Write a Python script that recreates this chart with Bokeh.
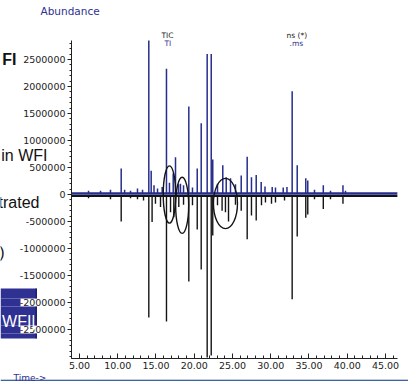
from bokeh.plotting import figure
from bokeh.models import (Range1d, FixedTicker, NumeralTickFormatter, PrintfTickFormatter,
                          Label, BoxAnnotation)
from bokeh.embed import file_html
from bokeh.resources import INLINE

# ---------------- data ----------------
# sample TIC (blue, drawn upward): retention time (min) and abundance
sample_time = [6.18, 7.75, 9.05, 10.45, 10.9, 11.67, 12.58, 13.24, 14.06, 14.37, 14.74, 15.2,
               15.81, 16.37, 16.76, 17.25, 17.55, 17.94, 18.2, 18.6, 19.29, 19.77, 20.39, 20.91,
               21.69, 22.22, 22.42, 23.04, 23.73, 24.18, 24.74, 25.39, 26.14, 26.92, 27.48, 28.1,
               28.75, 29.25, 30.19, 30.62, 31.63, 32.12, 32.8, 33.46, 34.58, 34.84, 35.72, 36.87,
               37.81, 39.44, 39.77]
sample_abund = [70000, 70000, 90000, 480000, 90000, 70000, 110000, 90000, 2950000, 440000, 170000, 110000,
                140000, 2330000, 220000, 390000, 690000, 190000, 200000, 170000, 1630000, 130000, 480000, 1320000,
                2600000, 2600000, 650000, 200000, 540000, 320000, 300000, 190000, 350000, 700000, 320000, 360000,
                230000, 150000, 140000, 130000, 130000, 140000, 1910000, 540000, 300000, 260000, 90000, 170000,
                70000, 170000, 70000]
# blank TIC (black, mirrored downward)
blank_time = [6.18, 9.05, 10.45, 11.67, 12.58, 13.37, 14.06, 14.49, 14.93, 15.59, 16.37, 16.9,
              17.33, 17.98, 18.6, 19.29, 19.77, 20.39, 20.91, 21.69, 22.22, 22.42, 23.04, 23.64,
              24.08, 24.48, 25.39, 26.14, 26.92, 27.48, 28.1, 28.79, 29.31, 30.1, 30.62, 31.8,
              32.8, 33.46, 34.58, 34.84, 35.72, 36.87, 37.81, 39.44]
blank_abund = [-70000, -90000, -500000, -70000, -90000, -110000, -2280000, -510000, -170000, -230000, -2350000, -330000,
               -420000, -230000, -190000, -1610000, -200000, -650000, -1390000, -3020000, -2980000, -760000, -200000, -300000,
               -330000, -500000, -190000, -300000, -830000, -390000, -480000, -200000, -150000, -170000, -150000, -110000,
               -1940000, -780000, -430000, -370000, -90000, -270000, -90000, -170000]
run_time = [3.96, 46.6]
sample_baseline = 18000
blank_baseline = -28000

# highlighted regions (ellipses): centre time, centre abundance, width (min), height (abundance)
ell_x = [16.76, 18.42, 24.08]
ell_y = [0, -200000, -167000]
ell_w = [1.63, 1.7, 3.14]
ell_h = [1060000, 1040000, 930000]

x_major = [5, 10, 15, 20, 25, 30, 35, 40, 45]
x_minor = list(range(4, 47))
y_major = [-2500000, -2000000, -1500000, -1000000, -500000, 0, 500000, 1000000, 1500000, 2000000, 2500000]
y_minor = list(range(-3000000, 2900000, 100000))

# ---------------- geometry ----------------
W, H = 408, 381
FL, FR, FT, FB = 71, 397, 40, 358
X0, X1 = 3.954, 46.57
Y0, Y1 = -3037000, 2852000

BLUE = "#262d8c"
BOXBLUE = "#2e3192"
BLACK = "#141414"
SMALL = "DejaVu Sans"
BIG = "Liberation Sans"
ABS = {"position": "absolute", "left": "0px", "top": "0px"}

p = figure(width=W, height=H, x_range=Range1d(X0, X1), y_range=Range1d(Y0, Y1),
           output_backend="svg", toolbar_location=None,
           min_border_left=FL, min_border_right=W - FR, min_border_top=FT, min_border_bottom=H - FB)
p.styles = ABS
p.outline_line_color = None
p.xgrid.visible = False
p.ygrid.visible = False
p.background_fill_color = "white"
p.border_fill_color = "white"

xa = p.xaxis[0]
xa.ticker = FixedTicker(ticks=x_major, minor_ticks=x_minor)
xa.formatter = NumeralTickFormatter(format="0.00")
xa.major_tick_in = 5
xa.major_tick_out = 0
xa.minor_tick_in = 3
xa.minor_tick_out = 0
xa.major_label_standoff = 3
xa.major_label_text_font = SMALL
xa.major_label_text_font_size = "9.5px"
xa.major_label_text_color = "#222222"
xa.axis_line_color = "#222222"
xa.major_tick_line_color = "#222222"
xa.minor_tick_line_color = "#222222"

ya = p.yaxis[0]
ya.ticker = FixedTicker(ticks=y_major, minor_ticks=y_minor)
ya.formatter = PrintfTickFormatter(format="%d")
ya.major_tick_in = 0
ya.major_tick_out = 4
ya.minor_tick_in = 0
ya.minor_tick_out = 2
ya.major_label_standoff = 2
ya.major_label_text_font = SMALL
ya.major_label_text_font_size = "9.5px"
ya.major_label_text_color = "#222222"
ya.axis_line_color = "#222222"
ya.major_tick_line_color = "#222222"
ya.minor_tick_line_color = "#222222"

# traces
p.line(x=run_time, y=[blank_baseline, blank_baseline], line_color=BLACK, line_width=2)
p.segment(x0=blank_time, y0=[blank_baseline] * len(blank_time), x1=blank_time, y1=blank_abund,
          line_color=BLACK, line_width=1.4)
p.line(x=run_time, y=[sample_baseline, sample_baseline], line_color=BLUE, line_width=2.6)
p.segment(x0=sample_time, y0=[sample_baseline] * len(sample_time), x1=sample_time, y1=sample_abund,
          line_color=BLUE, line_width=1.5)
p.ellipse(x=ell_x, y=ell_y, width=ell_w, height=ell_h, fill_alpha=0, line_color=BLACK, line_width=1.4)

# ---------------- transparent overlay for the page's texts and decorations (pixel coordinates) ----------------
ov = figure(width=W, height=H, x_range=Range1d(0, W), y_range=Range1d(H, 0),
            output_backend="svg", toolbar_location=None, min_border=0,
            x_axis_location=None, y_axis_location=None)
ov.styles = ABS
ov.outline_line_color = None
ov.xgrid.visible = False
ov.ygrid.visible = False
ov.background_fill_color = None
ov.border_fill_color = None

def box(l, r, t, b, color):
    ov.add_layout(BoxAnnotation(left=l, right=r, top=t, bottom=b, fill_color=color, fill_alpha=1,
                                line_color=None))

# blue box, leaving holes where the axis labels show through on white
box(0, 36, 288, 298, BOXBLUE)
box(0, 20, 298, 306, BOXBLUE)
box(0, 36, 306, 325, BOXBLUE)
box(0, 20, 325, 333, BOXBLUE)
box(0, 36, 333, 338, BOXBLUE)
box(35, 36.5, 288, 298, "#1b1f6e")
box(35, 36.5, 306, 325, "#1b1f6e")
box(35, 36.5, 333, 338, "#1b1f6e")
# bottom rule
box(0, W, 378.5, 379.5, "#c3cddf")
box(0, W, 379.5, 382, "#3f62a3")

def lab(text, px, py, size, color, font, align="left", baseline="middle", style="normal"):
    ov.add_layout(Label(x=px, y=py, text=text, text_font_size=size, text_color=color,
                        text_font=font, text_align=align, text_baseline=baseline,
                        text_font_style=style))

lab("Abundance", 40, 10.5, "10.5px", BOXBLUE, SMALL)
lab("TIC", 161, 35, "7.5px", "#222222", SMALL)
lab("TI", 164, 42.5, "7.5px", BOXBLUE, SMALL)
lab("ns (*)", 286, 35, "7.5px", "#222222", SMALL)
lab(".ms", 289, 43, "7.5px", BOXBLUE, SMALL)
lab("FI", 16, 59, "16px", "#111111", BIG, align="right", style="bold")
lab("in WFI", 47, 155, "16px", "#111111", BIG, align="right")
lab("trated", 39, 202, "16px", "#111111", BIG, align="right")
lab(")", 4, 252, "16px", "#111111", BIG, align="right")
lab("WFI|", 35, 321, "16px", "white", BIG, align="right")
lab("Time->", 13, 377, "9px", BOXBLUE, SMALL, baseline="alphabetic")

open("out.html", "w").write(file_html([p, ov], INLINE))
